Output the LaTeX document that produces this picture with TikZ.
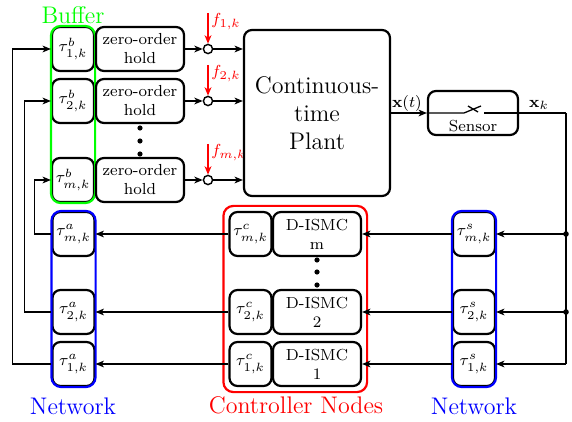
\documentclass[tikz,border=0pt]{standalone}
\usetikzlibrary{arrows.meta}
\begin{document}
\begin{tikzpicture}[x=0.5pt,y=-0.5pt,
  box/.style={draw, line width=1.1pt, rounded corners=4pt, align=center,
    inner sep=0pt, font=\fontsize{8}{9.5}\selectfont},
  tbox/.style={box, minimum width=21pt, minimum height=22pt},
  zbox/.style={box, minimum width=44pt, minimum height=22pt},
  grp/.style={draw=#1, line width=1.1pt, rounded corners=5pt},
  biglabel/.style={font=\fontsize{12}{14}\selectfont},
  sumpt/.style={draw, circle, line width=0.7pt, minimum size=4.6pt, inner sep=0pt, fill=white},
  conn/.style={line width=0.65pt},
  arr/.style={conn, -{Stealth[length=4.2pt,width=3.4pt,inset=1.2pt]}},
  farr/.style={red, line width=0.75pt, -{Stealth[length=4.2pt,width=3.4pt,inset=1.2pt]}},
  flabel/.style={red, font=\fontsize{8.5}{10}\selectfont, inner sep=0pt, anchor=west},
  small/.style={font=\fontsize{8}{9.5}\selectfont, inner sep=1pt},
]
\useasboundingbox (0,0) rectangle (572,422);

% ---------------- buffers and zero-order holds ----------------
\node[tbox] (b1) at (73,49)  {$\tau^b_{1,k}$};
\node[tbox] (b2) at (73,101) {$\tau^b_{2,k}$};
\node[tbox] (bm) at (73,180) {$\tau^b_{m,k}$};
\draw[grp=green] (b1.north west) rectangle (bm.south east);
\node[biglabel, green] (bufferlbl) at (73,15) {Buffer};

\node[zbox] (z1) at (140,49)  {zero-order\\hold};
\node[zbox] (z2) at (140,101) {zero-order\\hold};
\node[zbox] (zm) at (140,180) {zero-order\\hold};
\foreach \y in {128,141,154} \fill (140,\y) circle (1.3pt);

% ---------------- fault injection points ----------------
\node[sumpt] (p1) at (208,49)  {};
\node[sumpt] (p2) at (208,101) {};
\node[sumpt] (pm) at (208,180) {};
\coordinate (f1) at (208,13);
\coordinate (f2) at (208,65);
\coordinate (fm) at (208,144);
\draw[farr] (f1) -- (p1.north);
\draw[farr] (f2) -- (p2.north);
\draw[farr] (fm) -- (pm.north);
\node[flabel] (f1lbl) at (211,22)  {$f_{1,k}$};
\node[flabel] (f2lbl) at (211,74)  {$f_{2,k}$};
\node[flabel] (fmlbl) at (211,153) {$f_{m,k}$};

% ---------------- plant and sensor ----------------
\node[box, minimum width=73pt, minimum height=83pt, biglabel] (plant) at (317,113)
  {Continuous-\\time\\Plant};
\node[box, minimum width=45pt, minimum height=22pt] (sensor) at (473,113) {};
\node[small] (sensorlbl) at (473,126) {Sensor};

\draw[arr] (z1) -- (p1);
\draw[arr] (z2) -- (p2);
\draw[arr] (zm) -- (pm);
\draw[arr] (p1) -- (p1 -| plant.west);
\draw[arr] (p2) -- (p2 -| plant.west);
\draw[arr] (pm) -- (pm -| plant.west);

\draw[arr] (plant.east) -- (sensor.west);
\node[small] (xtlbl) at (407,104) {$\mathbf{x}(t)$};

% sampling switch inside the sensor
\coordinate (swa) at (464,113);
\coordinate (swb) at (484,113);
\coordinate (corner) at (566,113);
\draw[conn] (sensor.west) -- (swa) -- (481,106);
\draw[conn] (468,106) -- (478,112);
\draw[conn] (swb) -- (corner);
\node[small] (xklbl) at (539,105) {$\mathbf{x}_k$};

% ---------------- network (actuator side) ----------------
\node[tbox] (am) at (73.5,234) {$\tau^a_{m,k}$};
\node[tbox] (a2) at (73.5,312) {$\tau^a_{2,k}$};
\node[tbox] (a1) at (73.5,364) {$\tau^a_{1,k}$};
\draw[grp=blue] (am.north west) rectangle (a1.south east);
\node[biglabel, blue] (netAlbl) at (73,406) {Network};

% ---------------- controller nodes ----------------
\node[tbox] (cm) at (250.5,234) {$\tau^c_{m,k}$};
\node[tbox] (c2) at (250.5,312) {$\tau^c_{2,k}$};
\node[tbox] (c1) at (250.5,364) {$\tau^c_{1,k}$};
\node[zbox] (dm) at (317,234) {D-ISMC\\m};
\node[zbox] (d2) at (317,312) {D-ISMC\\2};
\node[zbox] (d1) at (317,364) {D-ISMC\\1};
\foreach \y in {260,272,285} \fill (317,\y) circle (1.3pt);
\draw[grp=red] ([shift={(-5,-5)}]cm.north west) rectangle ([shift={(5,5)}]d1.south east);
\node[biglabel, red] (ctrllbl) at (296,405) {Controller Nodes};

% ---------------- network (sensor side) ----------------
\node[tbox] (sm) at (474,234) {$\tau^s_{m,k}$};
\node[tbox] (s2) at (474,312) {$\tau^s_{2,k}$};
\node[tbox] (s1) at (474,364) {$\tau^s_{1,k}$};
\draw[grp=blue] (sm.north west) rectangle (s1.south east);
\node[biglabel, blue] (netSlbl) at (474,406) {Network};

% ---------------- feedback paths ----------------
\coordinate (rm) at (566,234);
\coordinate (r2) at (566,312);
\coordinate (r1) at (566,364);
\draw[conn] (corner) -- (r1);
\fill (rm) circle (1.4pt);
\fill (r2) circle (1.4pt);
\draw[arr] (rm) -- (sm);
\draw[arr] (r2) -- (s2);
\draw[arr] (r1) -- (s1);
\draw[arr] (sm) -- (dm);
\draw[arr] (s2) -- (d2);
\draw[arr] (s1) -- (d1);
\draw[arr] (cm) -- (am);
\draw[arr] (c2) -- (a2);
\draw[arr] (c1) -- (a1);

\draw[arr] (am.west) -- ++(-17,0) |- (bm.west);
\draw[arr] (a2.west) -- ++(-27,0) |- (b2.west);
\draw[arr] (a1.west) -- ++(-39,0) |- (b1.west);
\end{tikzpicture}
\end{document}
